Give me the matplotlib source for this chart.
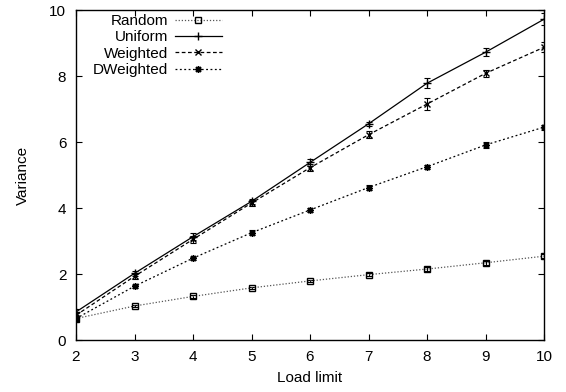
import matplotlib
matplotlib.use("Agg")
import matplotlib.pyplot as plt
from matplotlib.lines import Line2D

plt.rcParams['font.family'] = ['Liberation Sans', 'DejaVu Sans']

load = [2, 3, 4, 5, 6, 7, 8, 9, 10]
random_v = [0.65, 1.03, 1.32, 1.58, 1.79, 1.98, 2.15, 2.34, 2.54]
random_e = [0.04, 0.04, 0.04, 0.04, 0.04, 0.05, 0.05, 0.06, 0.07]
uniform_v = [0.85, 2.02, 3.13, 4.20, 5.38, 6.55, 7.78, 8.72, 9.72]
uniform_e = [0.08, 0.08, 0.10, 0.08, 0.10, 0.06, 0.15, 0.12, 0.18]
weighted_v = [0.75, 1.93, 3.05, 4.15, 5.22, 6.22, 7.15, 8.08, 8.87]
weighted_e = [0.08, 0.08, 0.10, 0.08, 0.10, 0.10, 0.18, 0.10, 0.15]
dweighted_v = [0.65, 1.63, 2.48, 3.25, 3.94, 4.62, 5.25, 5.91, 6.45]
dweighted_e = [0.06, 0.05, 0.05, 0.07, 0.05, 0.07, 0.06, 0.08, 0.08]
labels = ['Random', 'Uniform', 'Weighted', 'DWeighted']

fig = plt.figure(figsize=(5.66, 3.92), dpi=100)
ax = fig.add_axes([76/566, 1-340/392, (544-76)/566, (340-10)/392])

styles = [
    dict(color='#555555', linestyle=(0, (1, 1.5)), marker='s', markerfacecolor='none',
         markeredgecolor='black', markersize=4),
    dict(color='black', linestyle='-', marker='+', markersize=6),
    dict(color='black', linestyle=(0, (3, 2)), marker='x', markersize=5),
    dict(color='black', linestyle=(0, (1.5, 2)), marker=(8, 2, 0), markersize=5),
]
series = [(random_v, random_e), (uniform_v, uniform_e), (weighted_v, weighted_e), (dweighted_v, dweighted_e)]

handles = []
for (v, e), st, lab in zip(series, styles, labels):
    ax.errorbar(load, v, yerr=e, ecolor='black', capsize=2.5, elinewidth=0.8, capthick=0.8,
                linewidth=0.9, **st)
    handles.append(Line2D([], [], linewidth=0.9, **st))

ax.set_xlim(2, 10)
ax.set_ylim(0, 10)
ax.set_xticks(range(2, 11))
ax.set_yticks(range(0, 11, 2))
ax.tick_params(direction='in', top=True, right=True, labelsize=11, length=4, width=0.8, pad=7)
for s in ax.spines.values():
    s.set_linewidth(1.0)
ax.set_xlabel('Load limit', fontsize=11, labelpad=5)
ax.set_ylabel('Variance', fontsize=11, labelpad=14)

leg = ax.legend(handles, labels, loc='upper right', markerfirst=False, frameon=False, fontsize=11,
                handlelength=3.1, labelspacing=0.15, borderaxespad=0.0, borderpad=0.0,
                handletextpad=0.45, numpoints=1,
                bbox_to_anchor=((222-76)/468, (340-14)/330))
leg._legend_box.align = 'right'

fig.savefig('out.png', dpi=100)
